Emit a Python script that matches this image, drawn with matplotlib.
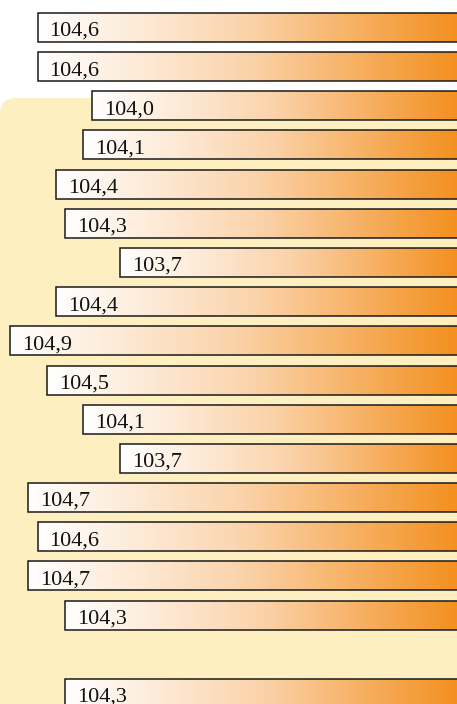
import numpy as np
import matplotlib
matplotlib.use("Agg")
import matplotlib.pyplot as plt
from matplotlib.colors import LinearSegmentedColormap
from matplotlib.patches import FancyBboxPatch

# values (top to bottom), one empty slot before the last bar
values = [104.6, 104.6, 104.0, 104.1, 104.4, 104.3, 103.7, 104.4, 104.9,
          104.5, 104.1, 103.7, 104.7, 104.6, 104.7, 104.3, 104.3]
slots = list(range(16)) + [17]
labels = [f"{v:.1f}".replace(".", ",") for v in values]

base = 100.0
orange = "#F39020"
panel_color = "#FEEFC1"

fig = plt.figure(figsize=(4.57, 7.04), dpi=100)
fig.patch.set_facecolor("white")

# light yellow panel with rounded top-left corner
panel = FancyBboxPatch((0.0, -0.3), 4.57 + 0.5, 6.06 + 0.3,
                       boxstyle="round,pad=0,rounding_size=0.16",
                       transform=fig.dpi_scale_trans, facecolor=panel_color,
                       edgecolor="none", zorder=-5)
fig.patches.append(panel)

ax = fig.add_axes([0, 0, 1, 1], zorder=2)
ax.patch.set_visible(False)
ax.axis("off")

cmap = LinearSegmentedColormap.from_list("wo", ["#FFFFFF", "#FBD3AA", orange])
grad = np.linspace(0, 1, 256).reshape(1, -1)
h = 0.74

bars = ax.barh(slots, [v - base for v in values], left=base, height=h,
               facecolor="none", edgecolor="#1a1a1a", linewidth=1.1, zorder=3)

for bar, v, y, lab in zip(bars, values, slots, labels):
    im = ax.imshow(grad, cmap=cmap, aspect="auto",
                   extent=(v, 100.02, y + h / 2, y - h / 2), zorder=2)
    im.set_clip_path(bar)
    ax.annotate(lab, xy=(v, y), xytext=(12, -8.5), textcoords="offset pixels",
                ha="left", va="baseline", fontsize=16,
                family="Liberation Serif", color="#111111", zorder=4,
                annotation_clip=False)

ax.set_xlim(105.01, 100.02)
ax.set_ylim(17.27, -0.70)

fig.savefig("out.png", dpi=100)
